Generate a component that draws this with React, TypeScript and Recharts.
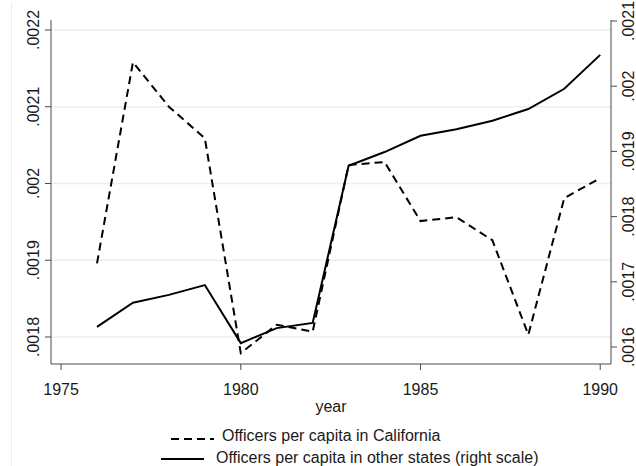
import React from "react";
import { LineChart, Line, XAxis, YAxis, CartesianGrid } from "recharts";

const years = [1976, 1977, 1978, 1979, 1980, 1981, 1982, 1983, 1984, 1985, 1986, 1987, 1988, 1989, 1990];
const california = [0.001896, 0.002158, 0.0021, 0.002059, 0.001779, 0.001816, 0.001807, 0.002024, 0.002028, 0.001951, 0.001956, 0.001926, 0.001803, 0.001981, 0.002007];
const otherStates = [0.001631, 0.001668, 0.00168, 0.001695, 0.001606, 0.001629, 0.001637, 0.001878, 0.001899, 0.001924, 0.001934, 0.001947, 0.001965, 0.001996, 0.002048];

const xTicks = [1975, 1980, 1985, 1990];
const leftTicks = [0.0018, 0.0019, 0.002, 0.0021, 0.0022];
const leftTickLabels = [".0018", ".0019", ".002", ".0021", ".0022"];
const rightTicks = [0.0016, 0.0017, 0.0018, 0.0019, 0.002, 0.0021];
const rightTickLabels = [".0016", ".0017", ".0018", ".0019", ".002", ".0021"];

const seriesNames = ["Officers per capita in California", "Officers per capita in other states (right scale)"];
const xLabel = "year";

const data = years.map((y, i) => ({ year: y, ca: california[i], other: otherStates[i] }));

const FONT = "'Liberation Sans', Arial, Helvetica, sans-serif";
const TEXT = "#1a1a1a";

function labelFor(ticks: number[], labels: string[], v: number) {
  const i = ticks.findIndex((t) => Math.abs(t - v) < 1e-9);
  return i >= 0 ? labels[i] : String(v);
}

const LeftTick = (props: any) => {
  const { x, y, payload } = props;
  const bx = x - 6;
  return (
    <text x={bx} y={y} transform={`rotate(-90, ${bx}, ${y})`} textAnchor="middle" fontSize={16} fontFamily={FONT} fill={TEXT}>
      {labelFor(leftTicks, leftTickLabels, payload.value)}
    </text>
  );
};

const RightTick = (props: any) => {
  const { x, y, payload } = props;
  const bx = x + 17;
  return (
    <text x={bx} y={y} transform={`rotate(-90, ${bx}, ${y})`} textAnchor="middle" fontSize={16} fontFamily={FONT} fill={TEXT}>
      {labelFor(rightTicks, rightTickLabels, payload.value)}
    </text>
  );
};

const XTick = (props: any) => {
  const { x, y, payload } = props;
  return (
    <text x={x} y={y + 25} textAnchor="middle" fontSize={16} fontFamily={FONT} fill={TEXT}>
      {payload.value}
    </text>
  );
};

export default function App() {
  return (
    <div style={{ position: "absolute", left: 0, top: 0, width: 636, height: 466, background: "#ffffff", overflow: "hidden" }}>
      <LineChart width={636} height={466} data={data} margin={{ top: 20, right: 0, bottom: 72, left: 0 }}>
        <CartesianGrid yAxisId="left" vertical={false} stroke="#e9f0f2" strokeWidth={1.5} horizontalValues={leftTicks} />
        <XAxis
          dataKey="year"
          type="number"
          domain={[1974.72, 1990.3]}
          ticks={xTicks}
          allowDataOverflow
          height={30}
          tickSize={6}
          tickMargin={0}
          tick={<XTick />}
          stroke="#4a4a4a"
          tickLine={{ stroke: "#4a4a4a" }}
        />
        <YAxis
          yAxisId="left"
          orientation="left"
          domain={[0.0017648, 0.002213]}
          ticks={leftTicks}
          allowDataOverflow
          width={51}
          tickSize={6}
          tickMargin={0}
          tick={<LeftTick />}
          stroke="#4a4a4a"
          tickLine={{ stroke: "#4a4a4a" }}
        />
        <YAxis
          yAxisId="right"
          orientation="right"
          domain={[0.001574, 0.0021015]}
          ticks={rightTicks}
          allowDataOverflow
          width={25}
          tickSize={6}
          tickMargin={0}
          tick={<RightTick />}
          stroke="#4a4a4a"
          tickLine={{ stroke: "#4a4a4a" }}
        />
        <Line yAxisId="left" type="linear" dataKey="ca" stroke="#000" strokeWidth={2} strokeDasharray="8 5" dot={false} isAnimationActive={false} />
        <Line yAxisId="right" type="linear" dataKey="other" stroke="#000" strokeWidth={2} dot={false} isAnimationActive={false} />
      </LineChart>
      <svg width={636} height={466} style={{ position: "absolute", left: 0, top: 0, pointerEvents: "none" }}>
        <line x1={11.5} y1={2} x2={11.5} y2={466} stroke="#eaf0f2" strokeWidth={1} />
        <text x={331} y={412} textAnchor="middle" fontSize={16} fontFamily={FONT} fill={TEXT}>{xLabel}</text>
        <line x1={171} y1={439} x2={214} y2={439} stroke="#000" strokeWidth={2} strokeDasharray="8 5" />
        <text x={222} y={441} fontSize={16} fontFamily={FONT} fill={TEXT}>{seriesNames[0]}</text>
        <line x1={161} y1={459} x2={204} y2={459} stroke="#000" strokeWidth={2} />
        <text x={216} y={463} fontSize={16} fontFamily={FONT} fill={TEXT}>{seriesNames[1]}</text>
      </svg>
    </div>
  );
}
